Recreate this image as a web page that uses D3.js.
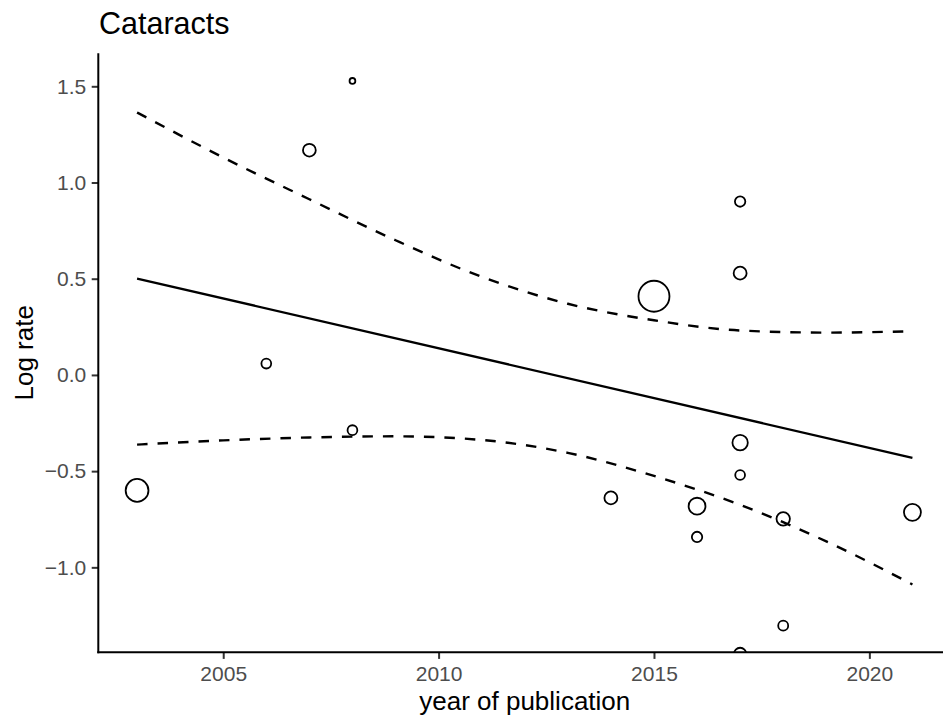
<!DOCTYPE html>
<html>
<head>
<meta charset="utf-8">
<script src="https://cdn.jsdelivr.net/npm/d3@7"></script>
<style>
  html, body { margin: 0; padding: 0; background: #fff; }
  svg { display: block; font-family: "Liberation Sans", Arial, Helvetica, sans-serif; }
</style>
</head>
<body>
<svg id="chart" width="943" height="721"></svg>
<script>
// ---- data ----
const years   = [2003, 2006, 2007, 2008, 2008, 2014, 2015, 2016, 2016, 2017, 2017, 2017, 2017, 2017, 2018, 2018, 2021];
const logRate = [-0.600, 0.059, 1.168, 1.528, -0.287, -0.639, 0.409, -0.682, -0.842, 0.901, 0.529, -0.352, -0.520, -1.450, -0.748, -1.303, -0.714];
const weights = [13.0, 2.4, 4.1, 0.84, 2.4, 4.2, 24.0, 7.1, 2.7, 2.7, 4.2, 5.9, 2.4, 3.8, 4.5, 2.5, 7.2];

const fitYears = [2003, 2021];
const fitValues = [0.501, -0.431];

const ciYears = [2003, 2005, 2007, 2009, 2011, 2013, 2015, 2017, 2019, 2021];
const ciUpper = [1.364, 1.130, 0.913, 0.700, 0.510, 0.370, 0.284, 0.231, 0.220, 0.227];
const ciLower = [-0.362, -0.340, -0.325, -0.319, -0.338, -0.405, -0.525, -0.675, -0.865, -1.089];

const xTicks = [2005, 2010, 2015, 2020];
const yTicks = [-1.0, -0.5, 0.0, 0.5, 1.0, 1.5];

const titleText = "Cataracts";
const xLabel = "year of publication";
const yLabel = "Log rate";

// ---- layout ----
const svg = d3.select("#chart");
const pLeft = 98.3, pRight = 951.2, pTop = 53.3, pBottom = 652.3;

const x = d3.scaleLinear().domain([2002.1, 2021.9]).range([pLeft, pRight]);
const y = d3.scaleLinear().domain([-1.4415, 1.6715]).range([pBottom, pTop]);
const r = d3.scaleSqrt().domain([0, 24]).range([0, 15.5]);

svg.append("defs").append("clipPath").attr("id", "panel")
  .append("rect").attr("x", pLeft).attr("y", pTop)
  .attr("width", pRight - pLeft).attr("height", pBottom - pTop);

const panel = svg.append("g").attr("clip-path", "url(#panel)");

// confidence band lines
const ciLine = d3.line().curve(d3.curveMonotoneX);
panel.append("path")
  .attr("d", ciLine(ciYears.map((yr, i) => [x(yr), y(ciUpper[i])])))
  .attr("fill", "none").attr("stroke", "#000").attr("stroke-width", 2.4)
  .attr("stroke-dasharray", "10.5,10");
panel.append("path")
  .attr("d", ciLine(ciYears.map((yr, i) => [x(yr), y(ciLower[i])])))
  .attr("fill", "none").attr("stroke", "#000").attr("stroke-width", 2.4)
  .attr("stroke-dasharray", "10.5,10");

// fitted line
panel.append("path")
  .attr("d", d3.line()(fitYears.map((yr, i) => [x(yr), y(fitValues[i])])))
  .attr("fill", "none").attr("stroke", "#000").attr("stroke-width", 2.3);

// points
panel.selectAll("circle.pt").data(years).enter().append("circle")
  .attr("class", "pt")
  .attr("cx", (d) => x(d))
  .attr("cy", (d, i) => y(logRate[i]))
  .attr("r", (d, i) => r(weights[i]))
  .attr("fill", "none").attr("stroke", "#000").attr("stroke-width", 1.8);

// axes
const fmtY = d3.format(".1f");
const yAxis = svg.append("g").attr("transform", `translate(${pLeft},0)`)
  .call(d3.axisLeft(y).tickValues(yTicks).tickFormat(fmtY).tickSize(6.6).tickPadding(5.5));
const xAxis = svg.append("g").attr("transform", `translate(0,${pBottom})`)
  .call(d3.axisBottom(x).tickValues(xTicks).tickFormat(d3.format("d")).tickSize(6.6).tickPadding(7.2));

[xAxis, yAxis].forEach(g => {
  g.select(".domain").remove();
  g.selectAll(".tick line").attr("stroke", "#333333").attr("stroke-width", 2);
  g.selectAll(".tick text").attr("fill", "#4D4D4D").style("font-size", "21px")
    .style("font-family", '"Liberation Sans", Arial, Helvetica, sans-serif');
});

// axis lines
svg.append("line").attr("x1", pLeft).attr("x2", pLeft).attr("y1", pTop).attr("y2", pBottom + 1)
  .attr("stroke", "#000").attr("stroke-width", 2);
svg.append("line").attr("x1", pLeft - 1).attr("x2", pRight).attr("y1", pBottom).attr("y2", pBottom)
  .attr("stroke", "#000").attr("stroke-width", 2);

// titles
svg.append("text").attr("x", 99).attr("y", 34)
  .style("font-size", "30.5px").attr("fill", "#000").text(titleText);
svg.append("text").attr("x", (pLeft + pRight) / 2).attr("y", 710)
  .attr("text-anchor", "middle").style("font-size", "26px").attr("fill", "#000").text(xLabel);
svg.append("text").attr("transform", `translate(33,${(pTop + pBottom) / 2}) rotate(-90)`)
  .attr("text-anchor", "middle").style("font-size", "26px").attr("fill", "#000").text(yLabel);
</script>
</body>
</html>
